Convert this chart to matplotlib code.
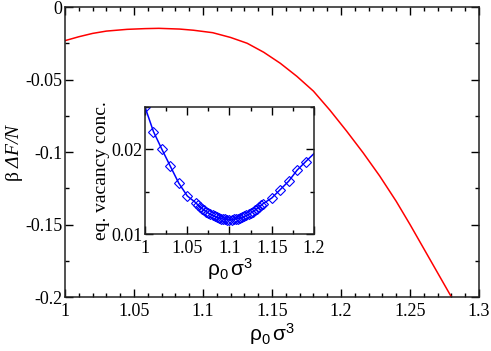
import matplotlib
matplotlib.use("Agg")
import matplotlib.pyplot as plt
from matplotlib.ticker import MultipleLocator, FuncFormatter

# Main curve: beta * Delta F / N vs rho0 sigma^3
rho_main = [1.000, 1.010, 1.020, 1.030, 1.045, 1.058, 1.068, 1.083, 1.093, 1.107,
            1.120, 1.132, 1.144, 1.156, 1.168, 1.180, 1.192, 1.204, 1.216, 1.228,
            1.240, 1.250, 1.265, 1.280]
dF_main = [-0.0232, -0.0205, -0.0182, -0.0166, -0.0154, -0.0149, -0.0147, -0.0152,
           -0.0160, -0.0177, -0.0210, -0.0250, -0.0312, -0.0388, -0.0478, -0.0580,
           -0.0712, -0.0855, -0.1005, -0.1165, -0.1340, -0.1500, -0.1750, -0.2000]

# Inset: equilibrium vacancy concentration
rho_in = [1.000, 1.010, 1.020, 1.030, 1.040, 1.050, 1.060,
          1.0625, 1.065, 1.0675, 1.070, 1.0725, 1.075, 1.0775, 1.080, 1.0825,
          1.085, 1.0875, 1.090, 1.0925, 1.095, 1.0975, 1.100, 1.1025, 1.105,
          1.1075, 1.110, 1.1125, 1.115, 1.1175, 1.120, 1.1225, 1.125, 1.1275,
          1.130, 1.1325, 1.135, 1.1375,
          1.140, 1.150, 1.160, 1.170, 1.180, 1.190, 1.200]
vac_in = [0.0250, 0.0221, 0.0200, 0.0180, 0.0160, 0.0145, 0.0137,
          0.01345, 0.01322, 0.01301, 0.01282, 0.01264, 0.01248, 0.01233, 0.01220, 0.01208,
          0.01198, 0.01190, 0.01183, 0.01177, 0.01173, 0.01171, 0.01170, 0.01171, 0.01173,
          0.01177, 0.01182, 0.01189, 0.01197, 0.01207, 0.01219, 0.01232, 0.01246, 0.01262,
          0.01280, 0.01299, 0.01319, 0.01340,
          0.01360, 0.01425, 0.01524, 0.01623, 0.01754, 0.01853, 0.01950]

plt.rcParams['mathtext.fontset'] = 'custom'
plt.rcParams['mathtext.rm'] = 'Liberation Serif:italic'
plt.rcParams['mathtext.it'] = 'Liberation Serif:italic'
plt.rcParams['mathtext.sf'] = 'Liberation Sans'
plt.rcParams['font.family'] = ['Liberation Serif', 'DejaVu Serif']

fig = plt.figure(figsize=(4.91, 3.51), dpi=100)
ax = fig.add_axes([0.1324, 0.1538, 0.8432, 0.8262])

fmt = FuncFormatter(lambda v, p: '%g' % round(v, 4))

def style(a, xmaj, xmin, ymaj, ymin):
    a.xaxis.set_major_locator(MultipleLocator(xmaj))
    a.xaxis.set_minor_locator(MultipleLocator(xmin))
    a.yaxis.set_major_locator(MultipleLocator(ymaj))
    a.yaxis.set_minor_locator(MultipleLocator(ymin))
    a.xaxis.set_major_formatter(fmt)
    a.yaxis.set_major_formatter(fmt)
    a.tick_params(which='both', direction='in', top=True, right=True,
                  labelsize=13, width=1.0)
    a.tick_params(axis='y', pad=2)
    a.tick_params(axis='x', pad=4)
    a.tick_params(which='major', length=6)
    a.tick_params(which='minor', length=3)
    for s in a.spines.values():
        s.set_linewidth(1.1)
        s.set_color('#222222')

ax.plot(rho_main, dF_main, color='#ff0000', lw=1.1)
ax.set_xlim(1.0, 1.3)
ax.set_ylim(-0.2, 0.0)
style(ax, 0.05, 0.01, 0.05, 0.025)
ax.set_xlabel(r'$\mathsf{\rho_0\,\sigma^3}$', fontsize=15, labelpad=1)
ax.set_ylabel(r'β $\Delta F/N$', fontsize=14)
ax.yaxis.set_label_coords(-0.097, 0.5)

ins = fig.add_axes([0.2953, 0.3333, 0.3442, 0.3619])
ins.plot(rho_in, vac_in, color='#0000ff', lw=1.1, marker='D', ms=5.5,
         mfc='none', mec='#0000ff', mew=0.8, markevery=list(range(len(rho_in) - 1)))
ins.set_xlim(1.0, 1.2)
ins.set_ylim(0.01, 0.025)
style(ins, 0.05, 0.025, 0.01, 0.005)
ins.set_xlabel(r'$\mathsf{\rho_0\,\sigma^3}$', fontsize=15, labelpad=0)
ins.set_ylabel('eq. vacancy conc.', fontsize=14, labelpad=1)

fig.savefig('out.png', dpi=100)
